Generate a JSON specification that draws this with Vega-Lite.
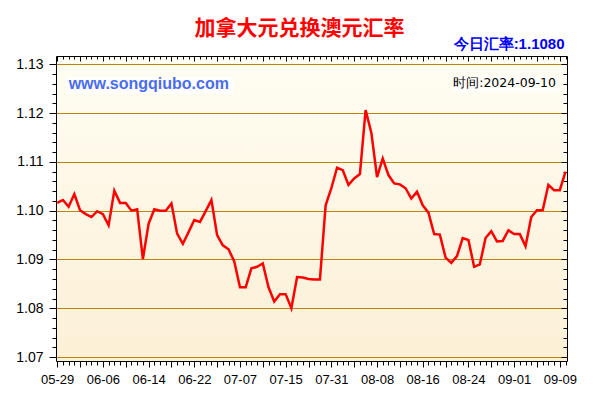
{
  "$schema": "https://vega.github.io/schema/vega-lite/v6.json",
  "width": 511,
  "height": 305,
  "autosize": {"type": "none"},
  "padding": {"left": 56, "top": 56, "right": 33, "bottom": 39},
  "background": "white",
  "config": {
    "view": {
      "stroke": "#000000",
      "strokeWidth": 1,
      "fill": {"gradient": "linear", "x1": 0, "y1": 0, "x2": 0, "y2": 1, "stops": [{"offset": 0, "color": "#fffdf3"}, {"offset": 1, "color": "#fcf0d6"}]}
    }
  },
  "title": {
    "text": "加拿大元兑换澳元汇率",
    "font": "Noto Sans CJK SC",
    "fontSize": 21,
    "fontWeight": "bold",
    "color": "#ff0000",
    "anchor": "middle",
    "dx": -12,
    "dy": 4,
    "offset": 1
  },
  "datasets": {
    "rates": [
      {"i": 0, "rate": 1.1016}, {"i": 1, "rate": 1.1022}, {"i": 2, "rate": 1.1008}, {"i": 3, "rate": 1.1034},
      {"i": 4, "rate": 1.1001}, {"i": 5, "rate": 1.0993}, {"i": 6, "rate": 1.0987}, {"i": 7, "rate": 1.0999},
      {"i": 8, "rate": 1.0993}, {"i": 9, "rate": 1.0970}, {"i": 10, "rate": 1.1041}, {"i": 11, "rate": 1.1016},
      {"i": 12, "rate": 1.1016}, {"i": 13, "rate": 1.1000}, {"i": 14, "rate": 1.1003}, {"i": 15, "rate": 1.0901},
      {"i": 16, "rate": 1.0973}, {"i": 17, "rate": 1.1003}, {"i": 18, "rate": 1.1000}, {"i": 19, "rate": 1.1000},
      {"i": 20, "rate": 1.1015}, {"i": 21, "rate": 1.0953}, {"i": 22, "rate": 1.0932}, {"i": 23, "rate": 1.0956},
      {"i": 24, "rate": 1.0981}, {"i": 25, "rate": 1.0977}, {"i": 26, "rate": 1.0999}, {"i": 27, "rate": 1.1022},
      {"i": 28, "rate": 1.0950}, {"i": 29, "rate": 1.0929}, {"i": 30, "rate": 1.0921}, {"i": 31, "rate": 1.0896},
      {"i": 32, "rate": 1.0843}, {"i": 33, "rate": 1.0843}, {"i": 34, "rate": 1.0882}, {"i": 35, "rate": 1.0885},
      {"i": 36, "rate": 1.0892}, {"i": 37, "rate": 1.0843}, {"i": 38, "rate": 1.0814}, {"i": 39, "rate": 1.0829},
      {"i": 40, "rate": 1.0829}, {"i": 41, "rate": 1.0800}, {"i": 42, "rate": 1.0864}, {"i": 43, "rate": 1.0863},
      {"i": 44, "rate": 1.0860}, {"i": 45, "rate": 1.0859}, {"i": 46, "rate": 1.0859}, {"i": 47, "rate": 1.1011},
      {"i": 48, "rate": 1.1046}, {"i": 49, "rate": 1.1088}, {"i": 50, "rate": 1.1083}, {"i": 51, "rate": 1.1053},
      {"i": 52, "rate": 1.1066}, {"i": 53, "rate": 1.1075}, {"i": 54, "rate": 1.1206}, {"i": 55, "rate": 1.1160},
      {"i": 56, "rate": 1.1069}, {"i": 57, "rate": 1.1107}, {"i": 58, "rate": 1.1073}, {"i": 59, "rate": 1.1056},
      {"i": 60, "rate": 1.1054}, {"i": 61, "rate": 1.1046}, {"i": 62, "rate": 1.1025}, {"i": 63, "rate": 1.1039},
      {"i": 64, "rate": 1.1011}, {"i": 65, "rate": 1.0996}, {"i": 66, "rate": 1.0952}, {"i": 67, "rate": 1.0951},
      {"i": 68, "rate": 1.0904}, {"i": 69, "rate": 1.0893}, {"i": 70, "rate": 1.0907}, {"i": 71, "rate": 1.0944},
      {"i": 72, "rate": 1.0940}, {"i": 73, "rate": 1.0885}, {"i": 74, "rate": 1.0890}, {"i": 75, "rate": 1.0944},
      {"i": 76, "rate": 1.0958}, {"i": 77, "rate": 1.0937}, {"i": 78, "rate": 1.0938}, {"i": 79, "rate": 1.0960},
      {"i": 80, "rate": 1.0952}, {"i": 81, "rate": 1.0952}, {"i": 82, "rate": 1.0927}, {"i": 83, "rate": 1.0987},
      {"i": 84, "rate": 1.1001}, {"i": 85, "rate": 1.1001}, {"i": 86, "rate": 1.1053}, {"i": 87, "rate": 1.1042},
      {"i": 88, "rate": 1.1042}, {"i": 89, "rate": 1.1080}
    ]
  },
  "resolve": {"axis": {"x": "independent", "y": "independent"}},
  "layer": [
    {
      "data": {"name": "rates"},
      "mark": {"type": "line", "strokeOpacity": 0},
      "encoding": {
        "x": {
          "field": "i", "type": "quantitative",
          "scale": {"domain": [-0.21, 89.26], "nice": false, "zero": false},
          "axis": {
            "orient": "top",
            "values": [0,1,2,3,4,5,6,7,8,9,10,11,12,13,14,15,16,17,18,19,20,21,22,23,24,25,26,27,28,29,30,31,32,33,34,35,36,37,38,39,40,41,42,43,44,45,46,47,48,49,50,51,52,53,54,55,56,57,58,59,60,61,62,63,64,65,66,67,68,69,70,71,72,73,74,75,76,77,78,79,80,81,82,83,84,85,86,87,88,89],
            "labels": false, "domain": false, "grid": false,
            "tickColor": "#000000", "tickWidth": 1,
            "tickSize": {"condition": {"test": "datum.value % 4 === 0", "value": -5}, "value": -3},
            "title": "今日汇率:1.1080",
            "titleFont": "Liberation Sans",
            "titleFontSize": 15,
            "titleFontWeight": "bold",
            "titleColor": "#0000ff",
            "titleAlign": "right",
            "titleAnchor": "end",
            "titleBaseline": "alphabetic",
            "titleX": 508,
            "titleY": -8
          }
        },
        "y": {
          "field": "rate", "type": "quantitative",
          "scale": {"domain": [1.0692, 1.1317], "nice": false, "zero": false},
          "axis": {
            "orient": "right",
            "values": [1.07,1.072,1.074,1.076,1.078,1.08,1.082,1.084,1.086,1.088,1.09,1.092,1.094,1.096,1.098,1.1,1.102,1.104,1.106,1.108,1.11,1.112,1.114,1.116,1.118,1.12,1.122,1.124,1.126,1.128,1.13],
            "labels": false, "domain": false, "grid": false,
            "tickColor": "#000000", "tickWidth": 1,
            "tickSize": {"condition": {"test": "abs(datum.value*100 - round(datum.value*100)) < 0.01", "value": -6}, "value": -4},
            "title": null
          }
        }
      }
    },
    {
      "data": {"values": [{}]},
      "mark": {"type": "rect", "fill": "#ffffff"},
      "encoding": {
        "x": {"datum": 1.61, "type": "quantitative", "axis": null},
        "x2": {"datum": 30.73},
        "y": {"datum": 1.12734, "type": "quantitative", "axis": null},
        "y2": {"datum": 1.12391}
      }
    },
    {
      "data": {"values": [{}]},
      "mark": {"type": "rect", "fill": "#ffffff", "opacity": 0.7},
      "encoding": {
        "x": {"datum": 69.1, "type": "quantitative", "axis": null},
        "x2": {"datum": 87.87},
        "y": {"datum": 1.1276, "type": "quantitative", "axis": null},
        "y2": {"datum": 1.12418}
      }
    },
    {
      "data": {"values": [{}]},
      "mark": {"type": "text", "align": "left", "baseline": "alphabetic", "font": "Liberation Sans", "fontSize": 16, "fontWeight": "bold", "color": "#4a6cf0"},
      "encoding": {
        "x": {"datum": 2.01, "type": "quantitative", "axis": null},
        "y": {"datum": 1.12488, "type": "quantitative", "axis": null},
        "text": {"value": "www.songqiubo.com"}
      }
    },
    {
      "data": {"values": [{}]},
      "mark": {"type": "text", "align": "right", "baseline": "alphabetic", "font": "DejaVu Sans", "fontSize": 12.5, "color": "#000000"},
      "encoding": {
        "x": {"datum": 87.34, "type": "quantitative", "axis": null},
        "y": {"datum": 1.12529, "type": "quantitative", "axis": null},
        "text": {"value": "时间:2024-09-10"}
      }
    },
    {
      "data": {"name": "rates"},
      "mark": {"type": "line", "color": "#ff0000", "strokeWidth": 2.5, "clip": true},
      "encoding": {
        "x": {
          "field": "i", "type": "quantitative",
          "axis": {
            "orient": "bottom",
            "values": [0,1,2,3,4,5,6,7,8,9,10,11,12,13,14,15,16,17,18,19,20,21,22,23,24,25,26,27,28,29,30,31,32,33,34,35,36,37,38,39,40,41,42,43,44,45,46,47,48,49,50,51,52,53,54,55,56,57,58,59,60,61,62,63,64,65,66,67,68,69,70,71,72,73,74,75,76,77,78,79,80,81,82,83,84,85,86,87,88,89],
            "domain": false, "grid": false,
            "tickColor": "#000000", "tickWidth": 1,
            "tickSize": {"condition": {"test": "datum.value % 4 === 0", "value": 6}, "value": 4},
            "labelExpr": "datum.value % 8 === 0 ? ['05-29','06-06','06-14','06-22','07-07','07-15','07-31','08-08','08-16','08-24','09-01','09-09'][datum.value / 8] : ''",
            "labelFont": "Liberation Sans",
            "labelFontSize": 13,
            "labelColor": "#000000",
            "labelPadding": 6,
            "labelOverlap": false,
            "labelFlush": false,
            "title": null
          }
        },
        "y": {
          "field": "rate", "type": "quantitative",
          "axis": {
            "orient": "left",
            "values": [1.07,1.072,1.074,1.076,1.078,1.08,1.082,1.084,1.086,1.088,1.09,1.092,1.094,1.096,1.098,1.1,1.102,1.104,1.106,1.108,1.11,1.112,1.114,1.116,1.118,1.12,1.122,1.124,1.126,1.128,1.13],
            "domain": false,
            "grid": true,
            "gridColor": "#b8860b",
            "gridWidth": 1.2,
            "gridOpacity": {"condition": {"test": "abs(datum.value*100 - round(datum.value*100)) < 0.01", "value": 1}, "value": 0},
            "tickColor": "#000000", "tickWidth": 1,
            "tickSize": {"condition": {"test": "abs(datum.value*100 - round(datum.value*100)) < 0.01", "value": 7}, "value": 4},
            "labelExpr": "abs(datum.value*100 - round(datum.value*100)) < 0.01 ? format(datum.value, '.2f') : ''",
            "labelFont": "Liberation Sans",
            "labelFontSize": 14,
            "labelColor": "#000000",
            "labelPadding": 6,
            "labelOverlap": false,
            "labelFlush": false,
            "title": null
          }
        }
      }
    }
  ]
}
